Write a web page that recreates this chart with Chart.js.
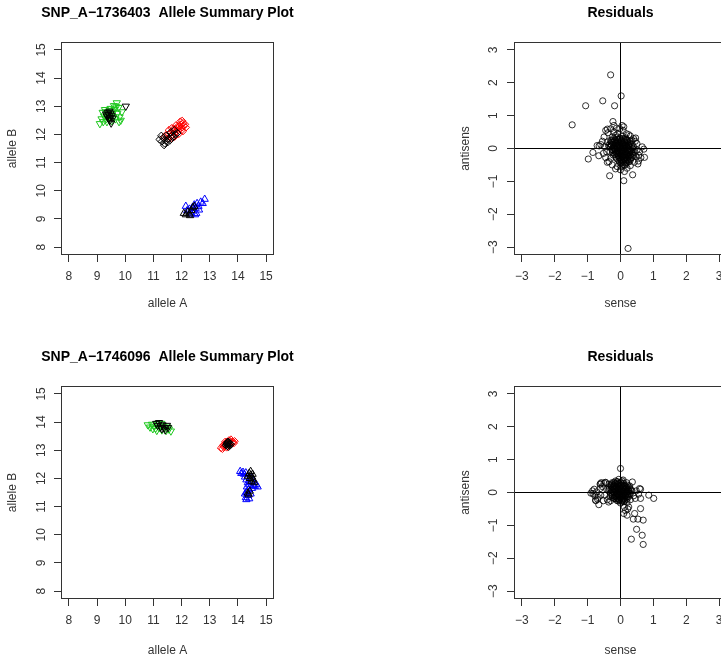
<!DOCTYPE html>
<html>
<head>
<meta charset="utf-8">
<script src="https://cdn.jsdelivr.net/npm/chart.js@4.4.1/dist/chart.umd.min.js"></script>
<style>
  html, body { margin: 0; padding: 0; background: #fff; }
  #page { position: relative; width: 721px; height: 658px; overflow: hidden; background: #fff; }
  canvas { position: absolute; }
</style>
</head>
<body>
<div id="page">
  <canvas id="allele1" width="360" height="344" style="left:0;top:0"></canvas>
  <canvas id="resid1"  width="380" height="344" style="left:360px;top:0"></canvas>
  <canvas id="allele2" width="360" height="344" style="left:0;top:344px"></canvas>
  <canvas id="resid2"  width="380" height="344" style="left:360px;top:344px"></canvas>
</div>
<script>
// ---- textes et graduations ----
const snp1Title = 'SNP_A\u22121736403  Allele Summary Plot';
const snp2Title = 'SNP_A\u22121746096  Allele Summary Plot';
const residTitle = 'Residuals';
const alleleTicks = [8, 9, 10, 11, 12, 13, 14, 15];
const residTicks = [-3, -2, -1, 0, 1, 2, 3];
const alleleLimits = [7.72, 15.28];
const residLimits = [-3.24, 3.24];

// ---- SNP_A-1736403 : (allele A, allele B) ----
const snp1Green = [
  [9.10,12.38],[9.16,12.55],[9.20,12.78],[9.25,12.65],[9.30,12.80],[9.33,12.55],[9.38,12.72],
  [9.42,12.60],[9.45,12.85],[9.50,12.70],[9.52,12.48],[9.55,12.78],[9.58,12.62],[9.62,12.88],
  [9.65,12.55],[9.70,13.12],[9.72,12.75],[9.76,12.95],[9.80,12.62],[9.84,12.50],[9.88,12.80],
  [9.68,12.98],[9.35,12.45],[9.48,12.92],[9.28,12.88],[9.22,12.45],[9.60,13.02],[9.78,12.45]
];
const snp1GreenBlack = [
  [9.35,12.65],[9.40,12.70],[9.45,12.60],[9.48,12.75],[9.42,12.55],[9.50,12.40],[9.38,12.78],
  [9.52,12.66],[9.46,12.50],[10.02,13.00],[9.55,12.58],[9.32,12.72],[9.44,12.82]
];
const snp1Red = [
  [11.40,11.90],[11.45,11.98],[11.50,11.85],[11.55,12.00],[11.60,11.92],[11.62,12.05],[11.68,11.98],
  [11.70,12.12],[11.75,12.05],[11.78,12.18],[11.82,12.10],[11.85,12.22],[11.88,12.15],[11.92,12.28],
  [11.95,12.20],[11.98,12.35],[12.02,12.25],[12.05,12.40],[12.08,12.30],[12.12,12.36],[11.90,12.32],
  [11.65,11.88],[11.72,12.20],[12.00,12.15],[11.55,12.15],[11.65,12.22],[11.80,12.32],[11.95,12.45],
  [12.02,12.48],[11.75,11.92],[11.90,12.02],[12.05,12.12],[12.15,12.25]
];
const snp1RedBlack = [
  [11.22,11.82],[11.30,11.75],[11.35,11.88],[11.40,11.68],[11.45,11.78],[11.50,11.72],[11.55,11.85],
  [11.60,11.80],[11.65,11.95],[11.70,11.90],[11.78,12.00],[11.85,12.05],[11.38,11.62],[11.28,11.95],
  [11.45,11.95],[11.62,12.08],[11.74,12.15]
];
const snp1Blue = [
  [12.15,9.45],[12.20,9.30],[12.28,9.35],[12.32,9.22],[12.38,9.40],[12.42,9.28],[12.45,9.50],
  [12.50,9.38],[12.52,9.20],[12.55,9.55],[12.60,9.45],[12.62,9.32],[12.68,9.60],[12.75,9.55],
  [12.82,9.70],[12.48,9.15],[12.35,9.18]
];
const snp1BlueBlack = [
  [12.08,9.20],[12.15,9.15],[12.22,9.25],[12.28,9.18],[12.35,9.30],[12.40,9.40],[12.45,9.45],[12.30,9.12]
];

// ---- SNP_A-1746096 ----
const snp2Green = [
  [10.80,13.90],[10.88,13.82],[10.95,13.92],[11.02,13.85],[11.08,13.78],[11.15,13.95],[11.20,13.80],
  [11.25,13.88],[11.30,13.72],[11.35,13.85],[11.40,13.78],[11.45,13.70],[11.50,13.82],[11.55,13.75],
  [11.62,13.68],[11.12,13.70],[10.98,13.76],[11.28,13.95]
];
const snp2GreenBlack = [
  [11.10,13.95],[11.15,13.88],[11.20,13.98],[11.25,13.82],[11.32,13.90],[11.38,13.80],[11.42,13.72],
  [11.48,13.88],[11.52,13.80],[11.30,13.76]
];
const snp2Red = [
  [13.45,13.05],[13.50,13.12],[13.52,13.20],[13.55,13.15],[13.58,13.25],[13.60,13.10],[13.62,13.30],
  [13.65,13.20],[13.68,13.35],[13.70,13.25],[13.72,13.32],[13.75,13.38],[13.78,13.28],[13.82,13.30],
  [13.85,13.25],[13.55,13.30],[13.48,13.18],[13.40,13.08],[13.88,13.32]
];
const snp2RedBlack = [
  [13.58,13.18],[13.60,13.22],[13.62,13.15],[13.64,13.25],[13.66,13.20],[13.68,13.28],[13.70,13.18],
  [13.72,13.24],[13.65,13.30],[13.62,13.28],[13.67,13.12],[13.74,13.20]
];
const snp2Blue = [
  [14.18,12.22],[14.22,12.15],[14.28,12.20],[14.25,12.05],[14.30,11.95],[14.35,11.85],[14.32,11.70],
  [14.38,11.60],[14.30,11.50],[14.35,11.40],[14.28,11.32],[14.40,11.28],[14.45,11.45],[14.50,11.65],
  [14.55,11.75],[14.60,11.72],[14.42,11.90],[14.48,12.00],[14.52,11.85],[14.33,11.55],[14.40,11.78],
  [14.25,11.45],[14.08,12.25],[14.12,12.18],[14.65,11.78],[14.70,11.70],[14.30,11.25]
];
const snp2BlueBlack = [
  [14.40,12.18],[14.45,12.12],[14.50,12.05],[14.42,12.00],[14.55,11.95],[14.48,11.90],[14.52,12.15],
  [14.38,11.42],[14.35,11.48],[14.42,11.55],[14.58,11.85],[14.45,12.25],[14.35,12.08]
];

// ---- residus (sense, antisens) ----
const resid1Points = [
  [-0.30,2.24],[0.02,1.60],[-0.54,1.45],[-1.06,1.30],[-0.18,1.30],[-1.47,0.72],[-0.23,0.82],
  [0.10,0.66],[-0.98,-0.32],[-0.66,-0.22],[-0.33,-0.83],[0.10,-0.98],[0.37,-0.80],[0.23,-3.04],
  [-0.71,0.09],[-0.84,-0.12],[0.46,0.32],[0.71,-0.02],[0.73,-0.27],[0.53,-0.47],[-0.40,0.59],
  [-0.40,-0.42],[-0.15,-0.62],
  [-0.45,0.55],[-0.38,0.48],[-0.30,0.60],[-0.20,0.70],[-0.12,0.62],[0.05,0.70],[0.18,0.45],
  [0.30,0.38],[0.40,0.30],[-0.50,0.35],[-0.55,0.22],[-0.60,0.12],[-0.65,0.08],[-0.48,0.05],
  [-0.52,-0.15],[-0.45,-0.28],[-0.35,-0.40],[-0.25,-0.50],[-0.10,-0.55],[0.00,-0.65],[0.12,-0.70],
  [0.20,-0.60],[0.30,-0.52],[0.42,-0.42],[0.55,-0.38],[0.62,-0.28],[0.58,-0.10],[0.66,0.05],
  [0.50,0.15],[0.45,0.22],[0.38,-0.20],
  [-0.30,0.25],[-0.25,0.35],[-0.20,0.20],[-0.15,0.40],[-0.12,0.10],[-0.10,0.28],[-0.08,0.45],
  [-0.05,0.15],[-0.02,0.32],[0.00,0.05],[0.02,0.22],[0.05,0.38],[0.08,0.12],[0.10,0.28],
  [0.12,-0.02],[0.15,0.18],[0.18,0.05],[0.20,0.25],[0.22,-0.10],[0.25,0.10],[0.28,-0.05],
  [0.30,0.15],[0.32,-0.18],[0.35,0.02],[-0.35,0.05],[-0.32,-0.10],[-0.28,0.12],[-0.25,-0.05],
  [-0.22,-0.20],[-0.18,0.00],[-0.15,-0.15],[-0.12,-0.30],[-0.10,-0.08],[-0.06,-0.22],[-0.04,-0.38],
  [-0.02,-0.12],[0.00,-0.28],[0.03,-0.45],[0.05,-0.08],[0.07,-0.20],[0.09,-0.35],[0.11,-0.50],
  [0.13,-0.15],[0.15,-0.28],[0.17,-0.42],[0.19,-0.20],[0.21,-0.33],[0.24,-0.25],[0.27,-0.40],
  [0.30,-0.30],[0.34,-0.10],[0.40,0.05],[0.44,-0.12],[0.48,-0.25],[-0.08,0.05],[0.02,-0.02],
  [0.06,0.02],[-0.03,0.08],[0.10,0.08],[0.14,0.06],[0.04,-0.14],[-0.14,0.18],[0.16,0.32],
  [-0.20,0.50],[-0.40,0.20],[-0.42,-0.10],[0.08,0.55],[0.25,0.42],[-0.02,0.60],[0.35,0.25],
  [0.50,-0.05],[0.55,-0.20],[-0.30,-0.30],[0.02,-0.55],
  // coeur dense
  [-0.22,0.30],[-0.12,0.33],[-0.02,0.28],[0.08,0.31],[0.18,0.27],
  [-0.28,0.22],[-0.18,0.24],[-0.08,0.21],[0.03,0.25],[0.12,0.20],[0.22,0.18],[0.30,0.22],
  [-0.32,0.14],[-0.22,0.12],[-0.14,0.15],[-0.04,0.13],[0.06,0.16],[0.16,0.12],[0.26,0.14],[0.36,0.12],
  [-0.30,0.06],[-0.21,0.04],[-0.11,0.07],[-0.01,0.03],[0.09,0.06],[0.19,0.08],[0.29,0.04],[0.38,-0.02],
  [-0.26,-0.02],[-0.16,-0.04],[-0.06,0.00],[0.04,-0.03],[0.14,0.00],[0.24,-0.01],[0.31,-0.06],
  [-0.24,-0.12],[-0.14,-0.09],[-0.04,-0.11],[0.06,-0.10],[0.16,-0.12],[0.26,-0.09],[0.36,-0.14],
  [-0.18,-0.18],[-0.08,-0.17],[0.01,-0.20],[0.11,-0.19],[0.21,-0.16],[0.29,-0.20],[0.40,-0.22],
  [-0.14,-0.26],[-0.04,-0.28],[0.06,-0.25],[0.16,-0.27],[0.26,-0.24],[0.34,-0.28],
  [-0.08,-0.34],[0.02,-0.36],[0.12,-0.33],[0.22,-0.36],[0.30,-0.35],
  [-0.02,-0.44],[0.08,-0.42],[0.18,-0.45],[0.24,-0.40],[0.06,-0.52],[0.15,-0.50],
  [-0.17,0.27],[-0.07,0.26],[0.13,0.26],[-0.26,0.18],[-0.09,0.17],[0.01,0.19],[0.21,0.23],
  [-0.36,0.10],[-0.27,0.09],[-0.17,0.10],[-0.07,0.10],[0.04,0.09],[0.14,0.09],[0.24,0.10],
  [-0.20,0.01],[-0.10,0.03],[0.00,0.00],[0.10,0.02],[0.20,0.03],[-0.20,-0.07],[-0.09,-0.06],
  [0.01,-0.07],[0.11,-0.05],[0.21,-0.06],[-0.12,-0.14],[-0.02,-0.15],[0.08,-0.14],[0.18,-0.15],
  [0.28,-0.13],[-0.06,-0.22],[0.04,-0.23],[0.14,-0.22],[0.24,-0.21],[0.00,-0.31],[0.10,-0.30],
  [0.20,-0.31],[0.05,-0.39],[0.15,-0.38]
];
const resid2Points = [
  [0.00,0.73],[0.36,0.32],[0.86,-0.08],[1.01,-0.18],[0.61,-0.49],[0.43,-0.64],[0.39,-0.81],
  [0.53,-0.81],[0.69,-0.84],[0.49,-1.12],[0.66,-1.30],[0.33,-1.42],[0.69,-1.58],[0.10,-0.64],
  [0.20,-0.69],[0.25,-0.44],[-0.66,-0.37],[-0.84,-0.03],[-0.76,-0.23],[-0.61,0.27],[-0.46,0.31],
  [0.61,0.10],[0.61,-0.18],[-0.36,-0.29],[0.15,-0.55],[0.22,-0.50],[0.12,-0.45],
  [-0.90,-0.02],[-0.85,0.05],[-0.78,-0.10],[-0.72,0.02],[-0.68,-0.15],[-0.62,0.25],[-0.58,0.30],
  [-0.55,0.18],[-0.50,0.28],[-0.48,-0.08],[-0.42,0.10],[-0.40,-0.22],[-0.35,0.25],[-0.30,-0.25],
  [-0.25,0.30],[-0.15,0.35],[-0.05,0.40],[0.08,0.38],[0.18,0.30],[0.28,0.20],[0.35,0.05],
  [0.40,-0.10],[0.48,0.05],[0.55,-0.05],[0.58,0.12],[0.45,-0.18],[0.30,-0.22],[0.20,-0.30],
  [0.10,-0.28],[0.00,-0.32],[-0.10,-0.25],[-0.20,-0.18],
  [-0.35,0.10],[-0.30,0.00],[-0.28,0.18],[-0.25,-0.08],[-0.22,0.08],[-0.20,0.22],[-0.18,-0.12],
  [-0.15,0.02],[-0.12,0.15],[-0.10,-0.05],[-0.08,0.28],[-0.06,0.08],[-0.04,-0.15],[-0.02,0.18],
  [0.00,0.00],[0.02,0.30],[0.04,-0.08],[0.06,0.12],[0.08,-0.20],[0.10,0.05],[0.12,0.22],
  [0.14,-0.10],[0.16,0.10],[0.18,-0.02],[0.20,0.15],[0.22,-0.12],[0.25,0.05],[0.28,-0.05],
  [0.30,0.10],[-0.32,-0.12],[-0.26,0.26],[-0.16,0.28],[-0.10,0.32],[0.00,0.22],[0.05,0.35],
  [-0.05,-0.22],[0.06,-0.25],[0.15,-0.22],[-0.14,-0.20],[-0.24,-0.15],[-0.04,0.05],[0.03,0.08],
  [0.08,0.02],[-0.08,-0.02],[0.12,-0.02],[-0.18,0.12],[0.20,0.02],[0.02,-0.12],[-0.12,-0.10],
  [-0.70,-0.20],[-0.60,-0.08],[-0.52,-0.25],[-0.45,0.30],[-0.62,0.12],[-0.75,-0.25],[-0.80,0.10],
  // coeur dense
  [-0.20,0.30],[-0.10,0.33],[0.00,0.30],[0.10,0.28],
  [-0.28,0.22],[-0.18,0.20],[-0.08,0.23],[0.02,0.21],[0.12,0.19],[0.22,0.22],
  [-0.33,0.14],[-0.23,0.15],[-0.13,0.12],[-0.03,0.14],[0.07,0.16],[0.17,0.13],[0.27,0.14],
  [-0.36,0.05],[-0.26,0.07],[-0.16,0.05],[-0.06,0.08],[0.04,0.05],[0.14,0.07],[0.24,0.04],[0.33,0.06],
  [-0.30,-0.03],[-0.20,-0.01],[-0.10,-0.03],[0.00,-0.01],[0.10,-0.04],[0.20,-0.02],[0.30,-0.03],
  [-0.25,-0.10],[-0.15,-0.11],[-0.05,-0.09],[0.05,-0.11],[0.15,-0.08],[0.25,-0.12],
  [-0.18,-0.18],[-0.08,-0.19],[0.02,-0.17],[0.12,-0.18],[0.20,-0.20],
  [-0.06,-0.26],[0.04,-0.28],[0.12,-0.26],
  [-0.15,0.26],[-0.05,0.27],[0.05,0.25],[-0.23,0.18],[-0.13,0.19],[-0.03,0.18],[0.07,0.20],
  [0.17,0.18],[-0.28,0.10],[-0.18,0.10],[-0.08,0.11],[0.02,0.10],[0.12,0.11],[0.22,0.09],
  [-0.21,0.02],[-0.11,0.03],[-0.01,0.02],[0.09,0.01],[0.19,0.03],[-0.20,-0.06],[-0.10,-0.06],
  [0.00,-0.05],[0.10,-0.07],[0.20,-0.07],[-0.12,-0.14],[-0.02,-0.13],[0.08,-0.14],[0.18,-0.14],
  [-0.02,-0.22],[0.08,-0.22]
];
const residZero = 0;

// ---- style ----
const FONT = "'Liberation Sans', Arial, Helvetica, sans-serif";
const INK = '#333';

function pts(list) { return list.map(([x, y]) => ({ x, y })); }
function fmtTick(v) { return v < 0 ? '\u2212' + Math.abs(v) : String(v); }

// cadre complet autour de la zone de trace (comme box() dans R)
const cadre = {
  id: 'cadre',
  afterDatasetsDraw(chart) {
    const { ctx, chartArea: a } = chart;
    ctx.save();
    ctx.strokeStyle = INK;
    ctx.lineWidth = 1;
    ctx.strokeRect(Math.round(a.left) + 0.5, Math.round(a.top) + 0.5,
                   Math.round(a.right - a.left) - 1, Math.round(a.bottom - a.top) - 1);
    ctx.restore();
  }
};

// titre principal centre sur la zone de trace, sans compression de largeur
const titre = {
  id: 'titre',
  afterDraw(chart, args, opts) {
    const { ctx, chartArea: a } = chart;
    ctx.save();
    ctx.fillStyle = '#000';
    ctx.font = 'bold 14px ' + FONT;
    ctx.textAlign = 'center';
    ctx.textBaseline = 'middle';
    ctx.fillText(opts.text, (a.left + a.right) / 2, 13);
    ctx.restore();
  }
};

function axe(pos, ticks, limits, label, titlePad) {
  return {
    type: 'linear',
    position: pos,
    min: limits[0],
    max: limits[1],
    afterBuildTicks: s => { s.ticks = ticks.map(v => ({ value: v })); },
    afterFit: s => {
      if (pos === 'left') s.width = 61;
      else s.height = 89;
    },
    grid: { drawOnChartArea: false, drawTicks: true, tickLength: 7, color: INK, tickWidth: 1 },
    border: { display: false },
    ticks: {
      autoSkip: false,
      color: INK,
      font: { family: FONT, size: 12 },
      padding: pos === 'left' ? 6 : 7,
      minRotation: pos === 'left' ? 90 : 0,
      maxRotation: pos === 'left' ? 90 : 0,
      crossAlign: pos === 'left' ? 'center' : 'near',
      callback: v => fmtTick(v)
    },
    title: {
      display: true,
      text: label,
      color: INK,
      font: { family: FONT, size: 12 },
      padding: pos === 'left' ? { top: 5.5, bottom: 0 } : { top: 0, bottom: titlePad }
    }
  };
}

function baseOptions(titleText, padLeft, padRight, xLabel, yLabel, limits, ticks, titlePad) {
  return {
    responsive: false,
    animation: false,
    devicePixelRatio: 1,
    layout: { padding: { left: padLeft, right: padRight, top: 42, bottom: 0 } },
    plugins: {
      legend: { display: false },
      tooltip: { enabled: false },
      title: { display: false },
      titre: { text: titleText }
    },
    scales: {
      x: axe('bottom', ticks, limits, xLabel, titlePad),
      y: axe('left', ticks, limits, yLabel, titlePad)
    }
  };
}

function jeu(data, color, style, rot, radius, order) {
  return {
    data: pts(data),
    pointStyle: style,
    pointRotation: rot,
    pointRadius: radius,
    pointBorderWidth: 1,
    borderColor: color,
    backgroundColor: 'transparent',
    order: order
  };
}

function alleleChart(id, title, sets, titlePad) {
  return new Chart(document.getElementById(id), {
    type: 'scatter',
    data: {
      datasets: [
        jeu(sets.green, '#1fc81f', 'triangle', 180, 4.2, 2),
        jeu(sets.red, '#ff0000', 'rectRot', 0, 3.7, 2),
        jeu(sets.blue, '#0000ff', 'triangle', 0, 4.2, 2),
        jeu(sets.greenBlack, '#000', 'triangle', 180, 4.2, 1),
        jeu(sets.redBlack, '#000', 'rectRot', 0, 3.7, 1),
        jeu(sets.blueBlack, '#000', 'triangle', 0, 4.2, 1)
      ]
    },
    options: baseOptions(title, 0, 86, 'allele A', 'allele B', alleleLimits, alleleTicks, titlePad),
    plugins: [cadre, titre]
  });
}

function residChart(id, points, titlePad) {
  const ligne = (data) => ({
    data: data, showLine: true, pointRadius: 0, borderColor: '#000', borderWidth: 1, order: 0
  });
  return new Chart(document.getElementById(id), {
    type: 'scatter',
    data: {
      datasets: [
        {
          data: pts(points),
          pointStyle: 'circle',
          pointRadius: 3.1,
          pointBorderWidth: 1,
          borderColor: 'rgba(0,0,0,0.8)',
          backgroundColor: 'transparent',
          order: 1
        },
        ligne([{ x: residLimits[0], y: residZero }, { x: residLimits[1], y: residZero }]),
        ligne([{ x: residZero, y: residLimits[0] }, { x: residZero, y: residLimits[1] }])
      ]
    },
    options: baseOptions(residTitle, 93, 13, 'sense', 'antisens', residLimits, residTicks, titlePad),
    plugins: [cadre, titre]
  });
}

alleleChart('allele1', snp1Title, {
  green: snp1Green, red: snp1Red, blue: snp1Blue,
  greenBlack: snp1GreenBlack, redBlack: snp1RedBlack, blueBlack: snp1BlueBlack
}, 33);
residChart('resid1', resid1Points, 33);
alleleChart('allele2', snp2Title, {
  green: snp2Green, red: snp2Red, blue: snp2Blue,
  greenBlack: snp2GreenBlack, redBlack: snp2RedBlack, blueBlack: snp2BlueBlack
}, 30);
residChart('resid2', resid2Points, 30);
</script>
</body>
</html>
